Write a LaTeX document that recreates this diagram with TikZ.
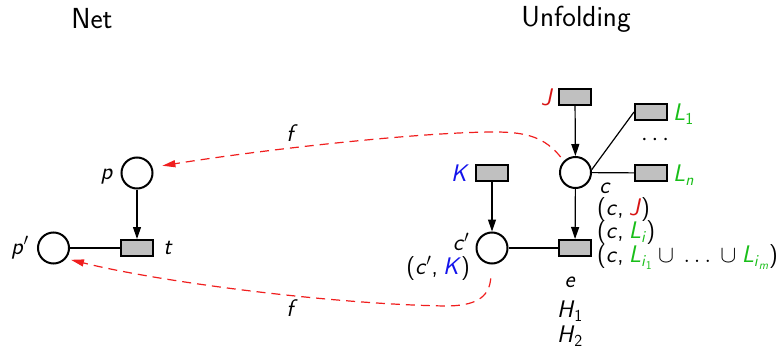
\RequirePackage{fix-cm}
\documentclass[tikz,border=0pt]{standalone}
\usepackage{amsmath}
\usepackage{fontspec}
\usetikzlibrary{arrows.meta}
\renewcommand\familydefault{\sfdefault}
\newcommand\mv[1]{\textsf{\textit{#1}}}
\newcommand\sv[1]{\textsf{#1}}
\newcommand\cs{,\hspace{0.22em}}
\definecolor{jred}{RGB}{215,20,20}
\definecolor{lgreen}{RGB}{25,190,25}
\definecolor{kblue}{RGB}{20,20,235}
\definecolor{boxgray}{RGB}{192,192,192}
\definecolor{fred}{RGB}{240,30,30}
\newcommand\J{\textcolor{jred}{\mv{J}}}
\newcommand\K{\textcolor{kblue}{\mv{K}}}
\newcommand\Lm[1]{\textcolor{lgreen}{\mv{L}_{#1}}}
\newcommand\Lg[1]{$\Lm{#1}$}
\begin{document}
\begin{tikzpicture}[x=1pt,y=-1pt,
  every node/.style={font=\fontsize{24}{28}\selectfont},
  place/.style={circle,draw,line width=2pt,minimum size=31pt,inner sep=0pt},
  trans/.style={rectangle,draw,fill=boxgray,line width=2pt,minimum width=32pt,minimum height=16pt,inner sep=0pt},
  lbl/.style={inner sep=0pt},
  title/.style={inner sep=0pt,font=\fontsize{29}{34}\selectfont},
  conn/.style={line width=1.2pt},
  arc/.style={conn,-{Triangle[length=12pt,width=8pt]}},
  fmap/.style={fred,line width=1.2pt,dash pattern=on 9pt off 6pt,-{Triangle[length=13pt,width=7pt]}}]
\useasboundingbox (0,0) rectangle (784,350);
% titles
\node[title] (tnet) at (92,19) {Net};
\node[title] (tunf) at (576,19) {Unfolding};
% net
\node[place] (p) at (137,173) {};
\node[place] (pp) at (53.5,248) {};
\node[trans] (t) at (137,248) {};
\node[lbl] (lp) at (107,177) {\mv{p}};
\node[lbl] (lpp) at (20,248) {$\mv{p}'$};
\node[lbl] (lt) at (168,248) {\mv{t}};
\draw[arc] (p) -- (t);
\draw[conn] (pp) -- (t);
% unfolding
\node[trans] (J) at (575,97) {};
\node[trans] (L1) at (651,112) {};
\node[trans] (Ln) at (651,173) {};
\node[place] (c) at (575.5,172.5) {};
\node[trans] (e) at (575,248) {};
\node[trans] (K) at (492,173) {};
\node[place] (cp) at (492,248) {};
\node[lbl] (lJ) at (547,97) {\J};
\node[lbl,anchor=west] (lL1) at (673,114) {\Lg{\sv{1}}};
\node[lbl,anchor=west] (lLn) at (673,175) {\Lg{\mv{n}}};
\node[lbl] (dots) at (657,140) {$\cdots$};
\node[lbl] (lK) at (460,173) {\K};
\node[lbl] (lc) at (605,188) {\mv{c}};
\node[lbl,anchor=west] (lcJ) at (597,210) {(\mv{c}\cs\J)};
\node[lbl,anchor=west] (lcL) at (597,233) {(\mv{c}\cs\Lg{\mv{i}})};
\node[lbl,anchor=west] (lcLL) at (597,257) {(\mv{c}\cs$\Lm{\mv{i}_{\sv{1}}}\cup\,\ldots\,\cup\Lm{\mv{i}_{\mv{m}}}$)};
\node[lbl] (le) at (570,282) {\mv{e}};
\node[lbl] (lH1) at (570,311) {$\mv{H}_{\sv{1}}$};
\node[lbl] (lH2) at (570,336) {$\mv{H}_{\sv{2}}$};
\node[lbl] (lcp) at (461,242) {$\mv{c}'$};
\node[lbl,anchor=east] (lcpK) at (470,268) {($\mv{c}'$\cs\K)};
\draw[arc] (J) -- (c);
\draw[arc] (c) -- (e);
\draw[arc] (K) -- (cp);
\draw[conn] (cp) -- (e);
\draw[conn] (c.10) -- (L1.west);
\draw[conn] (c) -- (Ln);
% f mappings
\node[lbl] (f1) at (292,133) {\mv{f}};
\node[lbl] (f2) at (292,308) {\mv{f}};
\draw[fmap,shorten <=5pt,shorten >=10pt] (c.135) .. controls (545,138) and (528,132) .. (495,132)
  .. controls (420,132) and (260,150) .. (p.20);
\draw[fmap,shorten <=14pt,shorten >=5pt] (cp.south) .. controls (489,298) and (475,306) .. (445,306)
  .. controls (330,304) and (160,282) .. (pp.-40);
\end{tikzpicture}
\end{document}
